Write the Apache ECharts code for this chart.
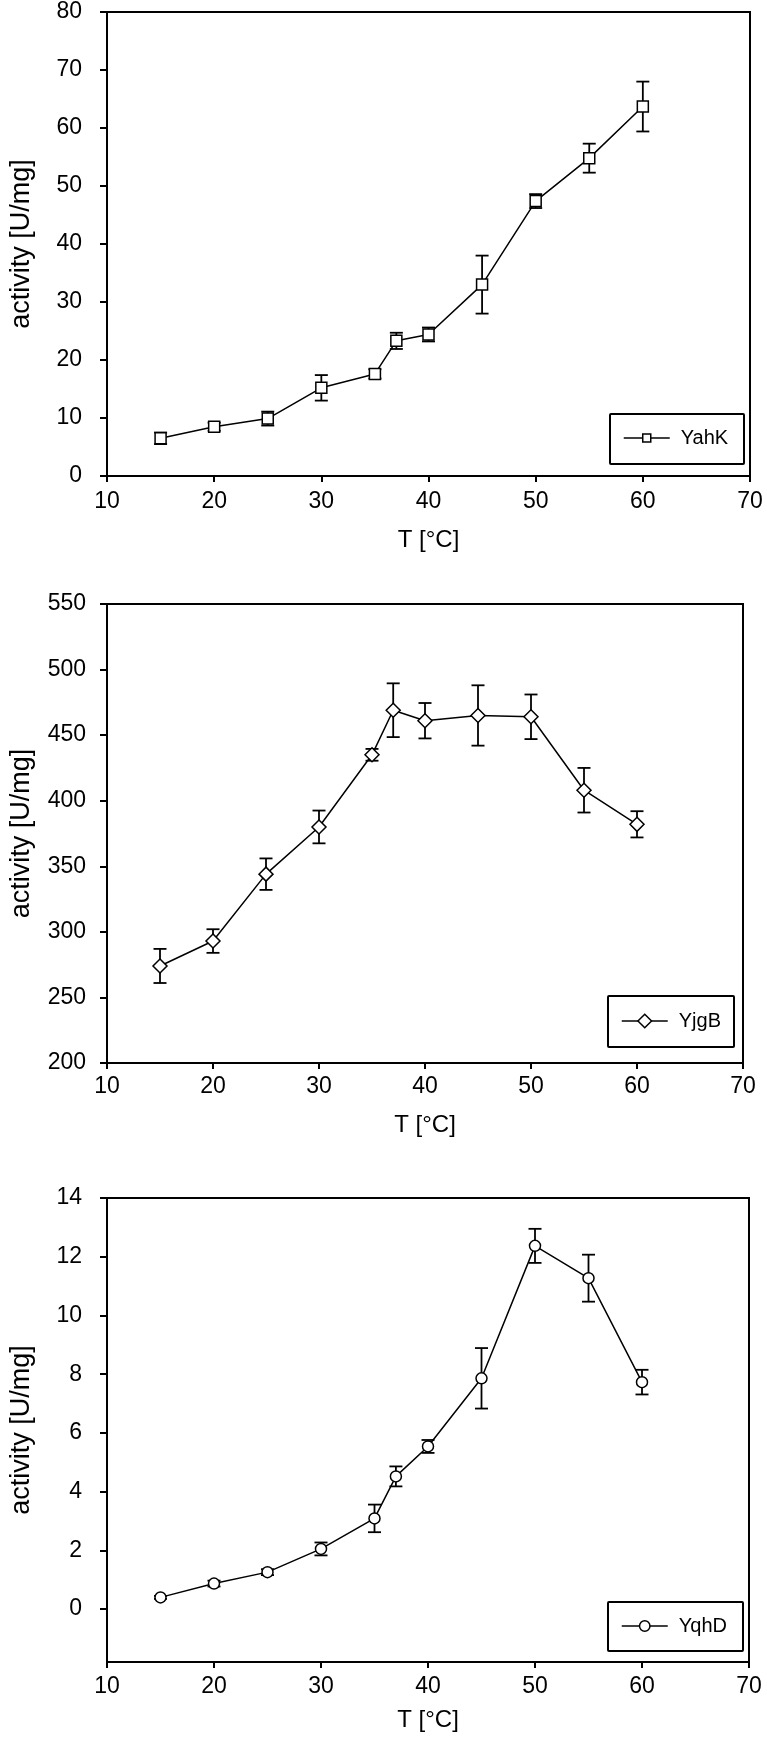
<!DOCTYPE html>
<html>
<head>
<meta charset="utf-8">
<script src="https://cdn.jsdelivr.net/npm/echarts@6/dist/echarts.min.js"></script>
<style>
html,body{margin:0;padding:0;background:#fff;}
#c{width:767px;height:1737px;}
</style>
</head>
<body>
<div id="c"></div>
<script>
// ---- data ----
const temps = [15, 20, 25, 30, 35, 37, 40, 45, 50, 55, 60];
const yahk = [6.5, 8.5, 9.9, 15.2, 17.6, 23.3, 24.4, 33.0, 47.4, 54.8, 63.7];
const yahkErr = [1.0, 0.7, 1.2, 2.2, 0.8, 1.4, 1.2, 5.0, 1.2, 2.5, 4.3];
const yjgb = [274, 293, 344, 380, 435, 469, 461, 465, 464, 408, 382];
const yjgbErr = [13, 9, 12, 12.5, 4.5, 20.5, 13.5, 23, 17, 17, 10];
const yqhd = [0.40, 0.87, 1.26, 2.05, 3.09, 4.52, 5.54, 7.86, 12.37, 11.27, 7.73];
const yqhdErr = [0.05, 0.1, 0.1, 0.22, 0.47, 0.34, 0.22, 1.03, 0.58, 0.80, 0.42];
const seriesNames = ['YahK', 'YjgB', 'YqhD'];
const yqhdTicks = [0, 2, 4, 6, 8, 10, 12, 14];
const xTitle = 'T [°C]';
const yTitle = 'activity [U/mg]';

const FONT = "'Liberation Sans', Arial, sans-serif";
const BLACK = '#000';

const chart = echarts.init(document.getElementById('c'), null, {renderer: 'canvas'});

function pts(vals) { return temps.map((t, i) => [t, vals[i]]); }
function errPts(vals, errs) { return temps.map((t, i) => [t, vals[i], errs[i]]); }

function errRender(params, api) {
  const x = api.value(0), y = api.value(1), e = api.value(2);
  const top = api.coord([x, y + e]);
  const bot = api.coord([x, y - e]);
  const hw = 6.5;
  const st = {stroke: BLACK, lineWidth: 1.8};
  return {
    type: 'group',
    children: [
      {type: 'line', shape: {x1: top[0], y1: top[1], x2: bot[0], y2: bot[1]}, style: st},
      {type: 'line', shape: {x1: top[0] - hw, y1: top[1], x2: top[0] + hw, y2: top[1]}, style: st},
      {type: 'line', shape: {x1: bot[0] - hw, y1: bot[1], x2: bot[0] + hw, y2: bot[1]}, style: st}
    ]
  };
}

const grids = [
  {left: 105, right: 17, top: 12, height: 464},
  {left: 106, right: 24, top: 604, height: 459},
  {left: 105, right: 18, top: 1198, height: 464}
].map(g => Object.assign({show: true, borderColor: BLACK, borderWidth: 2, backgroundColor: 'transparent'}, g));

function xAxis(i, gap, margin) {
  return {
    type: 'value', gridIndex: i, min: 10, max: 70, interval: 10,
    name: xTitle, nameLocation: 'middle', nameGap: gap,
    nameTextStyle: {fontFamily: FONT, fontSize: 24, color: BLACK},
    axisLine: {show: true, onZero: false, lineStyle: {color: BLACK, width: 2}},
    axisTick: {show: true, inside: false, length: 6, lineStyle: {color: BLACK, width: 2}},
    axisLabel: {fontFamily: FONT, fontSize: 23, color: BLACK, margin: margin},
    splitLine: {show: false}
  };
}
function yAxis(i, min, max, interval, margin, extra) {
  const a = {
    type: 'value', gridIndex: i, min: min, max: max,
    name: yTitle, nameLocation: 'middle', nameGap: 72, nameRotate: 90,
    nameTextStyle: {fontFamily: FONT, fontSize: 27, color: BLACK},
    axisLine: {show: true, onZero: false, lineStyle: {color: BLACK, width: 2}},
    axisTick: {show: true, inside: false, length: 7, lineStyle: {color: BLACK, width: 2}},
    axisLabel: {fontFamily: FONT, fontSize: 23, color: BLACK, margin: margin},
    splitLine: {show: false}
  };
  if (interval) a.interval = interval;
  if (extra) {
    a.axisTick.customValues = extra;
    a.axisLabel.customValues = extra;
  }
  return a;
}

function lineSeries(name, i, vals, symbol, size) {
  return {
    name: name, type: 'line', xAxisIndex: i, yAxisIndex: i,
    data: pts(vals), symbol: symbol, symbolSize: size, showAllSymbol: true,
    lineStyle: {color: BLACK, width: 1.5},
    itemStyle: {color: '#fff', borderColor: BLACK, borderWidth: 1.5},
    z: 5
  };
}
function errSeries(i, vals, errs) {
  return {
    type: 'custom', xAxisIndex: i, yAxisIndex: i,
    data: errPts(vals, errs), renderItem: errRender,
    encode: {x: 0, y: 1}, z: 3, silent: true
  };
}
function legend(name, left, top, itemHeight) {
  return {
    data: [name], left: left, top: top, orient: 'horizontal',
    itemWidth: 46, itemHeight: itemHeight, itemGap: 0,
    padding: 0, z: 20,
    textStyle: {fontFamily: FONT, fontSize: 20, lineHeight: 20, color: BLACK, padding: [0, 0, 0, 6]},
    itemStyle: {color: '#fff', borderColor: BLACK, borderWidth: 1.5},
    lineStyle: {color: BLACK, width: 1.5},
    selectedMode: false
  };
}
function legendBox(left, top, w, h) {
  return {
    type: 'rect', left: left, top: top, z: 15,
    shape: {width: w, height: h, r: 1},
    style: {fill: '#fff', stroke: BLACK, lineWidth: 2}
  };
}

const option = {
  animation: false,
  backgroundColor: '#fff',
  grid: grids,
  xAxis: [xAxis(0, 52, 14), xAxis(1, 50, 12), xAxis(2, 46, 13)],
  yAxis: [
    yAxis(0, 0, 80, 10, 25),
    yAxis(1, 200, 550, 50, 21),
    yAxis(2, -1.8, 14, null, 25, yqhdTicks)
  ],
  graphic: [
    legendBox(609, 413, 134, 50),
    legendBox(607, 995, 126, 51),
    legendBox(607, 1601, 135, 49)
  ],
  legend: [
    legend(seriesNames[0], 623, 428, 10),
    legend(seriesNames[1], 621, 1011, 17),
    legend(seriesNames[2], 621, 1616, 13)
  ],
  series: [
    errSeries(0, yahk, yahkErr),
    lineSeries(seriesNames[0], 0, yahk, 'rect', 11),
    errSeries(1, yjgb, yjgbErr),
    lineSeries(seriesNames[1], 1, yjgb, 'diamond', 14),
    errSeries(2, yqhd, yqhdErr),
    lineSeries(seriesNames[2], 2, yqhd, 'circle', 11)
  ]
};
chart.setOption(option);
</script>
</body>
</html>
